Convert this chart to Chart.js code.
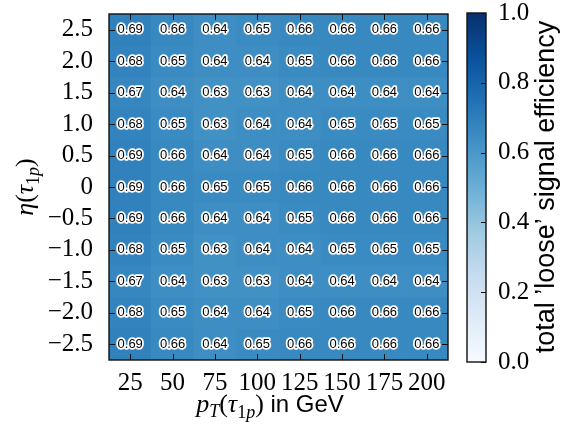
<!DOCTYPE html>
<html lang="en">
<head>
  <meta charset="UTF-8">
  <title>Loose signal efficiency</title>
  <script src="https://cdn.jsdelivr.net/npm/chart.js"></script>
  <style>
    body { margin: 0; background: #fff; }
    #wrap { position: relative; width: 561px; height: 432px; }
    #mainChart { position: absolute; left: 0; top: 0; }
    #cbChart { position: absolute; left: 450px; top: 0; }
  </style>
</head>
<body>
  <div id="wrap">
    <canvas id="mainChart" width="561" height="432"></canvas>
    <canvas id="cbChart" width="111" height="432"></canvas>
  </div>

  <script>
    // bins
    const ptBins = ["25", "50", "75", "100", "125", "150", "175", "200"];
    const etaBins = [2.5, 2.0, 1.5, 1.0, 0.5, 0, -0.5, -1.0, -1.5, -2.0, -2.5];

    // efficiency per eta row (columns follow ptBins)
    const effEta2p5  = [0.69, 0.66, 0.64, 0.65, 0.66, 0.66, 0.66, 0.66];
    const effEta2p0  = [0.68, 0.65, 0.64, 0.64, 0.65, 0.66, 0.66, 0.66];
    const effEta1p5  = [0.67, 0.64, 0.63, 0.63, 0.64, 0.64, 0.64, 0.64];
    const effEta1p0  = [0.68, 0.65, 0.63, 0.64, 0.64, 0.65, 0.65, 0.65];
    const effEta0p5  = [0.69, 0.66, 0.64, 0.64, 0.65, 0.66, 0.66, 0.66];
    const effEta0    = [0.69, 0.66, 0.65, 0.65, 0.66, 0.66, 0.66, 0.66];
    const effEtaM0p5 = [0.69, 0.66, 0.64, 0.64, 0.65, 0.66, 0.66, 0.66];
    const effEtaM1p0 = [0.68, 0.65, 0.63, 0.64, 0.64, 0.65, 0.65, 0.65];
    const effEtaM1p5 = [0.67, 0.64, 0.63, 0.63, 0.64, 0.64, 0.64, 0.64];
    const effEtaM2p0 = [0.68, 0.65, 0.64, 0.64, 0.65, 0.66, 0.66, 0.66];
    const effEtaM2p5 = [0.69, 0.66, 0.64, 0.65, 0.66, 0.66, 0.66, 0.66];
    const effRows = [effEta2p5, effEta2p0, effEta1p5, effEta1p0, effEta0p5, effEta0,
                     effEtaM0p5, effEtaM1p0, effEtaM1p5, effEtaM2p0, effEtaM2p5];

    const cbTicks = [0, 0.2, 0.4, 0.6, 0.8, 1.0];

    // matplotlib "Blues"
    const bluesStops = ["#f7fbff", "#deebf7", "#c6dbef", "#9ecae1", "#6baed6",
                        "#4292c6", "#2171b5", "#08519c", "#08306b"];
    function hexRgb(h) {
      return [parseInt(h.substr(1, 2), 16), parseInt(h.substr(3, 2), 16), parseInt(h.substr(5, 2), 16)];
    }
    function blues(v) {
      const t = Math.min(Math.max(v, 0), 1) * (bluesStops.length - 1);
      const i = Math.min(Math.floor(t), bluesStops.length - 2);
      const f = t - i;
      const a = hexRgb(bluesStops[i]), b = hexRgb(bluesStops[i + 1]);
      const c = a.map((x, k) => Math.round(x + (b[k] - x) * f));
      return `rgb(${c[0]},${c[1]},${c[2]})`;
    }

    const serif = "'Liberation Serif', 'DejaVu Serif', serif";
    const sans = "'Liberation Sans', Arial, sans-serif";

    function fmtEta(v) {
      if (v === 0) return "0";
      return (v < 0 ? "\u2212" : "") + Math.abs(v).toFixed(1);
    }

    // draw a row of text pieces, centred on x
    function drawRuns(ctx, runs, x, y) {
      let w = 0;
      runs.forEach(r => { ctx.font = r.font; r.w = ctx.measureText(r.t).width; w += r.w; });
      let cx = x - w / 2;
      ctx.textAlign = "left";
      ctx.textBaseline = "alphabetic";
      runs.forEach(r => {
        ctx.font = r.font;
        ctx.fillText(r.t, cx, y + (r.dy || 0));
        cx += r.w;
      });
    }

    // no extra room for half labels, so the plot box lands where we want it
    function noPad(s) {
      s.paddingTop = 0; s.paddingBottom = 0; s.paddingLeft = 0; s.paddingRight = 0;
    }

    const frameTicks = {
      id: "frameTicks",
      afterDatasetsDraw(chart) {
        const { ctx, scales: { x, y } } = chart;
        ctx.save();
        ctx.font = "13px " + sans;
        ctx.textAlign = "center";
        ctx.textBaseline = "middle";
        ctx.lineJoin = "round";
        effRows.forEach((row, r) => {
          row.forEach((v, c) => {
            const px = x.getPixelForValue(c);
            const py = y.getPixelForValue(etaBins[r]);
            const s = v.toFixed(2);
            ctx.strokeStyle = "#fff";
            ctx.lineWidth = 3.5;
            ctx.strokeText(s, px, py);
            ctx.fillStyle = "#000";
            ctx.fillText(s, px, py);
          });
        });
        ctx.restore();
      },
      afterDraw(chart) {
        const { ctx, chartArea: a, scales: { x, y } } = chart;
        ctx.save();
        ctx.strokeStyle = "#111";
        ctx.lineWidth = 1;
        ctx.beginPath();
        x.ticks.forEach((t, i) => {
          const px = Math.round(x.getPixelForTick(i)) + 0.5;
          ctx.moveTo(px, a.bottom); ctx.lineTo(px, a.bottom - 6);
          ctx.moveTo(px, a.top); ctx.lineTo(px, a.top + 6);
        });
        etaBins.forEach(v => {
          const py = Math.round(y.getPixelForValue(v)) + 0.5;
          ctx.moveTo(a.left, py); ctx.lineTo(a.left + 6, py);
          ctx.moveTo(a.right, py); ctx.lineTo(a.right - 6, py);
        });
        ctx.stroke();
        ctx.lineWidth = 1.4;
        ctx.strokeRect(a.left, a.top, a.right - a.left, a.bottom - a.top);

        // axis titles
        ctx.fillStyle = "#000";
        const big = "26px " + serif, bigI = "italic 26px " + serif;
        const sm = "18px " + serif, smI = "italic 18px " + serif;
        drawRuns(ctx, [
          { t: "p", font: bigI },
          { t: "T", font: smI, dy: 5 },
          { t: "(", font: big },
          { t: "\u03c4", font: bigI },
          { t: "1", font: sm, dy: 6 },
          { t: "p", font: smI, dy: 6 },
          { t: ")", font: big },
          { t: " in GeV", font: "24px " + sans }
        ], 270, 412);

        ctx.translate(33, 187);
        ctx.rotate(-Math.PI / 2);
        drawRuns(ctx, [
          { t: "\u03b7", font: bigI },
          { t: "(", font: big },
          { t: "\u03c4", font: bigI },
          { t: "1", font: sm, dy: 6 },
          { t: "p", font: smI, dy: 6 },
          { t: ")", font: big }
        ], 0, 0);
        ctx.restore();
      }
    };

    const datasets = effRows.map((row, r) => ({
      label: fmtEta(etaBins[r]),
      data: row.map(() => [etaBins[r] - 0.25, etaBins[r] + 0.25]),
      backgroundColor: ctx => blues(row[ctx.dataIndex]),
      borderWidth: 0,
      grouped: false,
      barPercentage: 1,
      categoryPercentage: 1
    }));

    new Chart(document.getElementById("mainChart"), {
      type: "bar",
      data: { labels: ptBins, datasets: datasets },
      options: {
        responsive: false,
        animation: false,
        devicePixelRatio: 1,
        layout: { padding: { left: 0, top: 14, right: 113, bottom: 0 } },
        plugins: { legend: { display: false }, tooltip: { enabled: false } },
        scales: {
          x: {
            grid: { display: false },
            border: { display: false },
            ticks: { color: "#000", font: { family: serif, size: 25 }, padding: 0, maxRotation: 0, autoSkip: false },
            afterFit: s => { noPad(s); s.height = 72; }
          },
          y: {
            type: "linear",
            min: -2.75,
            max: 2.75,
            grid: { display: false },
            border: { display: false },
            afterBuildTicks: s => { s.ticks = etaBins.map(v => ({ value: v })); },
            ticks: { color: "#000", font: { family: serif, size: 25 }, padding: 8, callback: v => fmtEta(v) },
            afterFit: s => { noPad(s); s.width = 109; }
          }
        }
      },
      plugins: [frameTicks]
    });

    // colour bar
    const cbFrame = {
      id: "cbFrame",
      afterDraw(chart) {
        const { ctx, chartArea: a, scales: { y } } = chart;
        ctx.save();
        ctx.strokeStyle = "#111";
        ctx.lineWidth = 1;
        ctx.beginPath();
        cbTicks.forEach(v => {
          const py = Math.round(y.getPixelForValue(v)) + 0.5;
          ctx.moveTo(a.right, py); ctx.lineTo(a.right - 5, py);
        });
        ctx.stroke();
        ctx.lineWidth = 1.4;
        ctx.strokeRect(a.left, a.top, a.right - a.left, a.bottom - a.top);
        ctx.fillStyle = "#000";
        ctx.translate(104, 187);
        ctx.rotate(-Math.PI / 2);
        ctx.font = "27px " + sans;
        ctx.textAlign = "center";
        ctx.textBaseline = "alphabetic";
        ctx.fillText("total \u2019loose\u2019 signal efficiency", 0, 0);
        ctx.restore();
      }
    };

    new Chart(document.getElementById("cbChart"), {
      type: "bar",
      data: {
        labels: ["eff"],
        datasets: [{
          data: [[0, 1]],
          backgroundColor: ctx => {
            const a = ctx.chart.chartArea;
            if (!a) return bluesStops[4];
            const g = ctx.chart.ctx.createLinearGradient(0, a.bottom, 0, a.top);
            bluesStops.forEach((c, i) => g.addColorStop(i / (bluesStops.length - 1), c));
            return g;
          },
          borderWidth: 0,
          barPercentage: 1,
          categoryPercentage: 1
        }]
      },
      options: {
        responsive: false,
        animation: false,
        devicePixelRatio: 1,
        layout: { padding: { left: 17, top: 13, right: 0, bottom: 70 } },
        plugins: { legend: { display: false }, tooltip: { enabled: false } },
        scales: {
          x: { display: false },
          y: {
            position: "right",
            min: 0,
            max: 1,
            grid: { display: false },
            border: { display: false },
            afterBuildTicks: s => { s.ticks = cbTicks.map(v => ({ value: v })); },
            ticks: { color: "#000", font: { family: serif, size: 25 }, padding: 4, callback: v => v.toFixed(1) },
            afterFit: s => { noPad(s); s.width = 75; }
          }
        }
      },
      plugins: [cbFrame]
    });
  </script>
</body>
</html>
